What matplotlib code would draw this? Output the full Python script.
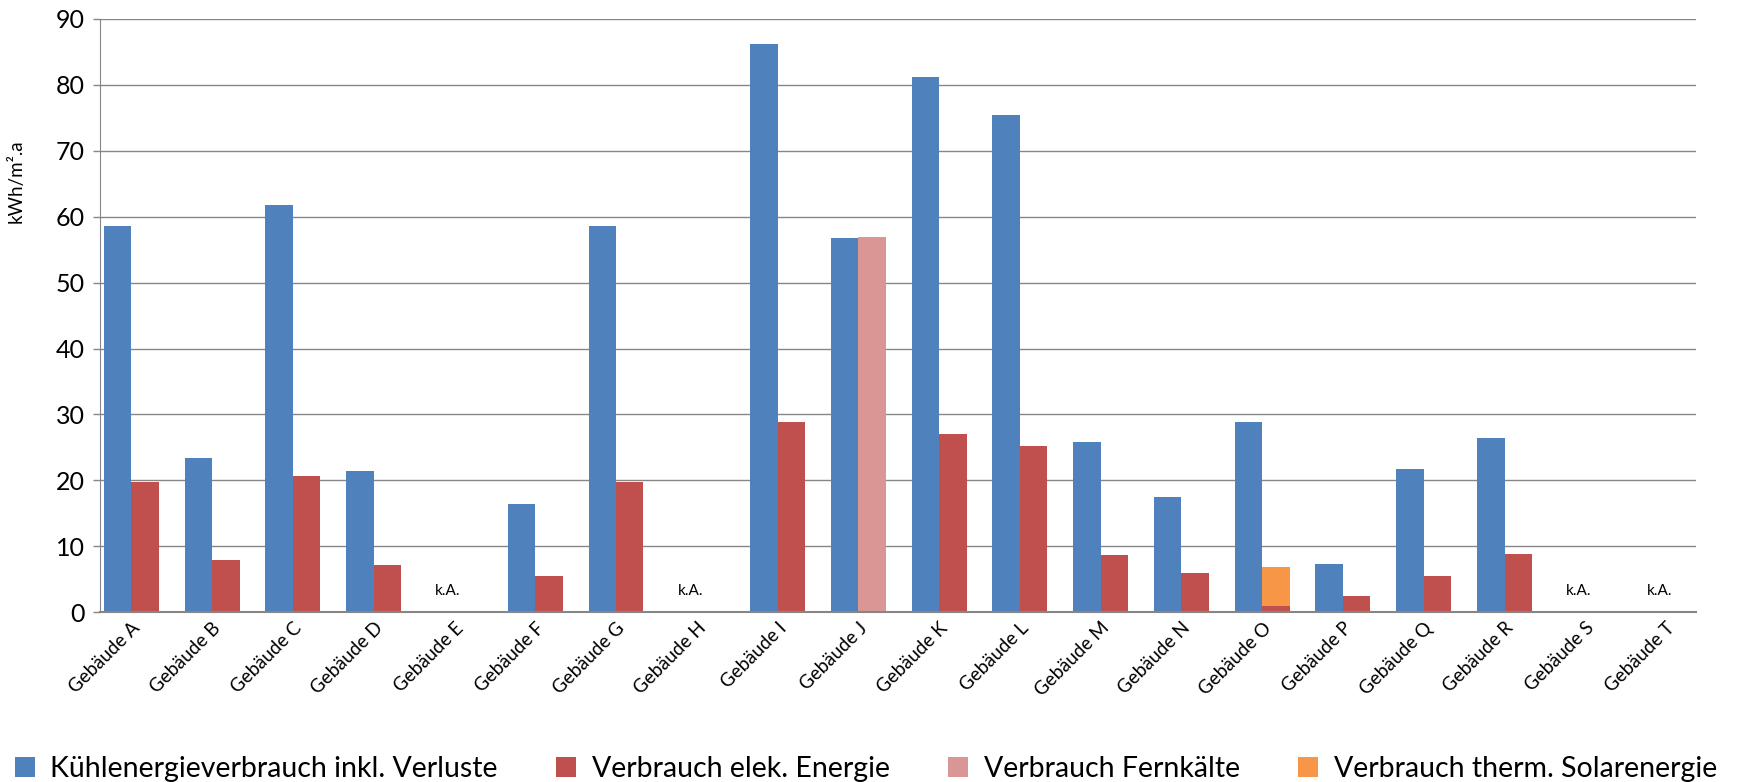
import numpy as np
import matplotlib
matplotlib.use("Agg")
import matplotlib.pyplot as plt

plt.rcParams['font.family'] = ['Lato', 'DejaVu Sans']

# Gebäude A..T, None = keine Angabe (k.A.)
buildings = ["Gebäude " + c for c in "ABCDEFGHIJKLMNOPQRST"]
kuehl = [58.6, 23.4, 61.7, 21.4, None, 16.4, 58.6, None, 86.1, 56.8,
         81.2, 75.4, 25.8, 17.5, 28.8, 7.4, 21.8, 26.4, None, None]
elek = [19.7, 7.9, 20.6, 7.1, None, 5.5, 19.7, None, 28.8, 0.0,
        27.0, 25.2, 8.7, 5.9, 0.9, 2.4, 5.5, 8.9, None, None]
fern = [0, 0, 0, 0, 0, 0, 0, 0, 0, 56.9,
        0, 0, 0, 0, 0, 0, 0, 0, 0, 0]
solar = [0, 0, 0, 0, 0, 0, 0, 0, 0, 0,
         0, 0, 0, 0, 6.0, 0, 0, 0, 0, 0]
no_data = ["k.A." if v is None else "" for v in kuehl]

labels = ["Kühlenergieverbrauch inkl. Verluste", "Verbrauch elek. Energie",
          "Verbrauch Fernkälte", "Verbrauch therm. Solarenergie"]
colors = ["#4F81BD", "#C0504D", "#D99694", "#F79646"]

k = np.array([np.nan if v is None else v for v in kuehl])
e = np.array([np.nan if v is None else v for v in elek])
f = np.array(fern, dtype=float)
s = np.array(solar, dtype=float)
x = np.arange(len(buildings))
w = 0.34

fig = plt.figure(figsize=(17.52, 7.82), dpi=100)
ax = fig.add_axes([0.057, 0.217, 0.911, 0.759])

ax.bar(x - w / 2, k, w, color=colors[0], label=labels[0])
ax.bar(x + w / 2, e, w, color=colors[1], label=labels[1])
ax.bar(x + w / 2, f, w, bottom=np.nan_to_num(e), color=colors[2], label=labels[2])
ax.bar(x + w / 2, s, w, bottom=np.nan_to_num(e) + f, color=colors[3], label=labels[3])

for xi, t in zip(x, no_data):
    if t:
        ax.text(xi - 0.08, 2.2, t, ha="center", va="bottom", fontsize=11)

ax.set_ylim(0, 90)
ax.set_yticks(np.arange(0, 91, 10))
ax.set_xlim(-0.39, 19.37)
ax.set_xticks(x)
ax.set_xticklabels(buildings, rotation=45, ha="right", rotation_mode="anchor", fontsize=13.5)
ax.tick_params(axis="x", length=0, pad=5)
ax.tick_params(axis="y", labelsize=18, length=5, color="#868686", width=1, pad=6)
ax.yaxis.grid(True, color="#868686", linewidth=1)
ax.set_axisbelow(True)
for sp in ["top", "right"]:
    ax.spines[sp].set_visible(False)
for sp in ["left", "bottom"]:
    ax.spines[sp].set_color("#868686")
ax.spines["bottom"].set_linewidth(1.5)
ax.set_ylabel("kWh/m².a", fontsize=13.5)
ax.yaxis.set_label_coords(-0.047, 0.727)

fig.legend(loc="center left", bbox_to_anchor=(0.002, 0.017), ncol=4, frameon=False,
           fontsize=20.5, handlelength=0.7, handleheight=0.7, handletextpad=0.55,
           columnspacing=2.05, borderaxespad=0)

fig.savefig("out.png", dpi=100)
